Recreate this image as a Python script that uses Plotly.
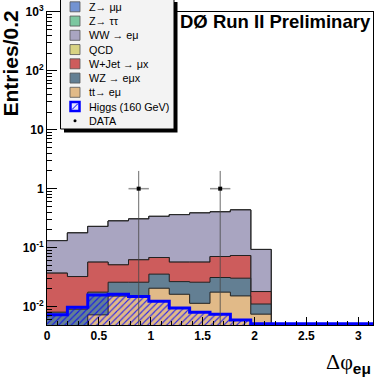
import numpy as np
import plotly.graph_objects as go

# 16 bins of pi/16 over [0, pi]; backgrounds only fill the first 11
n_bins = 16
edges = np.linspace(0, np.pi, n_bins + 1)
centers = 0.5 * (edges[:-1] + edges[1:])

# per-process contributions (entries per bin), stacked bottom -> top
ttbar   = [0.0, 0.0, 0.0072, 0.0150, 0.0145, 0.0204, 0.0161, 0.0113, 0.0175, 0.0151, 0.0074]
wz      = [0.0080, 0.0090, 0.0103, 0.0108, 0.0113, 0.0150, 0.0103, 0.0145, 0.0135, 0.0151, 0.0036]
wjet    = [0.0288, 0.0232, 0.0391, 0.0251, 0.0362, 0.0324, 0.0302, 0.0308, 0.0395, 0.0431, 0.0069]
qcd     = [0.0, 0.0, 0.0, 0.0, 0.0, 0.0, 0.0, 0.0, 0.0, 0.0, 0.0]
ww      = [0.094, 0.145, 0.172, 0.232, 0.244, 0.271, 0.305, 0.330, 0.333, 0.362, 0.075]
ztautau = [0.0, 0.0, 0.0, 0.0, 0.0, 0.0, 0.0, 0.0, 0.0, 0.0, 0.0]
zmumu   = [0.0, 0.0, 0.0, 0.0, 0.0, 0.0, 0.0, 0.0, 0.0, 0.0, 0.0]

higgs = [0.0072, 0.0097, 0.0157, 0.0161, 0.0147, 0.0123, 0.0094, 0.0080,
         0.0074, 0.0059, 0.0, 0.0, 0.0, 0.0, 0.0, 0.0]
data = [0, 0, 0, 0, 1, 0, 0, 0, 1, 0, 0, 0, 0, 0, 0, 0]

y_tickvals = [1e-2, 1e-1, 1, 10, 1e2, 1e3]
y_ticktext = ["10<sup>-2</sup>", "10<sup>-1</sup>", "1", "10", "10<sup>2</sup>", "10<sup>3</sup>"]
x_tickvals = [0, 0.5, 1, 1.5, 2, 2.5, 3]
x_ticktext = ["0", "0.5", "1", "1.5", "2", "2.5", "3"]

colors = {
    "zmumu": "#7393d2",
    "ztautau": "#7cc7a0",
    "ww": "#a9a5c1",
    "qcd": "#d8d383",
    "wjet": "#cd5c5c",
    "wz": "#637f93",
    "ttbar": "#e1ba88",
    "higgs": "#0000ff",
}

stack = [
    ("tt→ eμ", ttbar, "ttbar"),
    ("WZ → eμx", wz, "wz"),
    ("W+Jet → μx", wjet, "wjet"),
    ("QCD", qcd, "qcd"),
    ("WW → eμ", ww, "ww"),
    ("Z→ ττ", ztautau, "ztautau"),
    ("Z→ μμ", zmumu, "zmumu"),
]

ymin_log, ymax_log = -2.315, 3.0
floor_hidden = 10 ** (ymin_log - 1)
floor_shown = 10 ** (ymin_log + 0.02)


def step_xy(vals, floor):
    v = np.asarray(vals, dtype=float)
    x = edges[:len(v) + 1]
    y = np.append(np.where(v > 0, v, floor), floor)
    return x, y


fig = go.Figure()

cum = np.cumsum(np.array([s[1] for s in stack]), axis=0)
for i in reversed(range(len(stack))):
    x, y = step_xy(cum[i], floor_hidden)
    fig.add_trace(go.Scatter(
        x=x, y=y, mode="lines", line=dict(color="#222222", width=1, shape="hv"),
        fill="tozeroy", fillcolor=colors[stack[i][2]], showlegend=False, hoverinfo="skip",
    ))

x, y = step_xy(np.maximum(higgs, floor_shown), floor_hidden)
fig.add_trace(go.Scatter(
    x=x, y=y, mode="lines", line=dict(color=colors["higgs"], width=3, shape="hv"),
    fill="tozeroy", fillcolor="rgba(0,0,0,0)",
    fillpattern=dict(shape="/", fgcolor="rgba(0,0,255,0.8)", bgcolor="rgba(0,0,0,0)",
                     size=4.5, solidity=0.25, fillmode="replace"),
    showlegend=False, hoverinfo="skip",
))

data = np.asarray(data, dtype=float)
sel = data > 0
fig.add_trace(go.Scatter(
    x=centers[sel], y=data[sel], mode="markers",
    marker=dict(symbol="square", size=4, color="black"),
    error_y=dict(type="data", array=np.sqrt(data[sel]), arrayminus=np.sqrt(data[sel]),
                 color="rgba(70,70,70,0.8)", thickness=1, width=0),
    error_x=dict(type="data", array=np.full(sel.sum(), np.pi / 32),
                 color="rgba(120,120,120,0.8)", thickness=1.5, width=0),
    showlegend=False, hoverinfo="skip",
))

# pixel -> paper helpers for the hand-drawn legend and labels
L, T, W, H = 47, 12, 326, 313


def fx(p):
    return (p - L) / W


def fy(p):
    return (T + H - p) / H


shapes = [
    dict(type="rect", xref="paper", yref="paper", x0=fx(64), x1=fx(177.5), y0=fy(132.5), y1=fy(2),
         fillcolor="black", line=dict(width=0)),
    dict(type="rect", xref="paper", yref="paper", x0=fx(60.5), x1=fx(174), y0=fy(129), y1=fy(-1),
         fillcolor="#f3f3f3", line=dict(color="black", width=1)),
]
annotations = []

legend_rows = [("Z→ μμ", "zmumu"), ("Z→ ττ", "ztautau"), ("WW → eμ", "ww"), ("QCD", "qcd"),
               ("W+Jet → μx", "wjet"), ("WZ → eμx", "wz"), ("tt→ eμ", "ttbar"),
               ("Higgs (160 GeV)", "higgs"), ("DATA", "data")]
for i, (label, key) in enumerate(legend_rows):
    yc = 6.8 + 14.25 * i
    if key == "data":
        shapes.append(dict(type="circle", xref="paper", yref="paper", x0=fx(73.5), x1=fx(76.5),
                           y0=fy(yc + 1.5), y1=fy(yc - 1.5), fillcolor="black", line=dict(width=0)))
    elif key == "higgs":
        shapes.append(dict(type="rect", xref="paper", yref="paper", x0=fx(70.5), x1=fx(79.5),
                           y0=fy(yc + 4.5), y1=fy(yc - 4.5), fillcolor="#e6e6ff",
                           line=dict(color=colors["higgs"], width=2.5)))
        shapes.append(dict(type="line", xref="paper", yref="paper", x0=fx(72), x1=fx(78),
                           y0=fy(yc + 3), y1=fy(yc - 3), line=dict(color=colors["higgs"], width=1)))
    else:
        shapes.append(dict(type="rect", xref="paper", yref="paper", x0=fx(70), x1=fx(80),
                           y0=fy(yc + 5), y1=fy(yc - 5), fillcolor=colors[key],
                           line=dict(color="#555555", width=0.8)))
    annotations.append(dict(text=label, xref="paper", yref="paper", x=fx(87), y=fy(yc),
                            xanchor="left", yanchor="middle", showarrow=False,
                            font=dict(size=10.8, color="black")))

annotations += [
    dict(text="<b>DØ Run II Preliminary</b>", xref="paper", yref="paper",
         x=fx(275), y=fy(22), xanchor="center", yanchor="middle", showarrow=False,
         font=dict(size=18.5, color="black")),
    dict(text="<b>Entries/0.2</b>", xref="paper", yref="paper", textangle=-90,
         x=fx(9.5), y=fy(64), xanchor="center", yanchor="middle", showarrow=False,
         font=dict(size=21, color="black")),
    dict(text="Δφ<sub><span style='font-family:Liberation Sans'><b>eμ</b></span></sub>",
         xref="paper", yref="paper", x=fx(373), y=fy(363), xanchor="right", yanchor="middle",
         showarrow=False, font=dict(size=22, color="black", family="Liberation Serif")),
]

fig.update_layout(
    width=374, height=378,
    margin=dict(l=L, r=374 - L - W, t=T, b=378 - T - H),
    paper_bgcolor="white", plot_bgcolor="white",
    font=dict(family="Liberation Sans", color="black"),
    shapes=shapes, annotations=annotations, showlegend=False,
)
fig.update_xaxes(
    range=[0, np.pi], tickvals=x_tickvals, ticktext=x_ticktext,
    ticks="inside", ticklen=8, tickcolor="black", showline=True, linecolor="black",
    linewidth=1, mirror=True, showgrid=False, zeroline=False,
    tickfont=dict(size=12, weight="bold"),
    minor=dict(ticks="inside", ticklen=4, dtick=0.1, tickcolor="black", showgrid=False),
)
fig.update_yaxes(
    type="log", range=[ymin_log, ymax_log], tickvals=y_tickvals, ticktext=y_ticktext,
    ticks="inside", ticklen=10, tickcolor="black", showline=True, linecolor="black",
    linewidth=1, mirror=True, showgrid=False, zeroline=False,
    tickfont=dict(size=12, weight="bold"),
    minor=dict(ticks="inside", ticklen=5, dtick="D1", tickcolor="black", showgrid=False),
)

# drop the page's default body margin so the figure sits at the window origin
fig.write_html("out.html", config={"displayModeBar": False},
               post_script="document.body.style.margin='0';")
